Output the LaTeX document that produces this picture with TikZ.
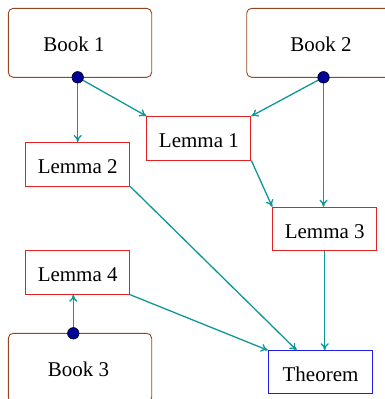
\documentclass[tikz,border=0pt]{standalone}
\usepackage{fontspec}
\setmainfont{Liberation Serif}
\usetikzlibrary{arrows.meta,calc}
\definecolor{bookc}{RGB}{150,70,30}
\definecolor{lemc}{RGB}{225,35,35}
\definecolor{thmc}{RGB}{30,30,230}
\definecolor{arrc}{RGB}{15,150,150}
\definecolor{dotc}{RGB}{0,0,150}
\begin{document}
\begin{tikzpicture}[x=1pt,y=-1pt,
  every node/.style={font=\fontsize{21}{25}\selectfont},
  bookbox/.style={draw=bookc,line width=0.9pt,rounded corners=5pt,minimum width=143.4pt,minimum height=69pt,inner sep=0pt},
  lembox/.style={draw=lemc,line width=0.9pt,minimum width=104pt,minimum height=43.5pt,inner sep=0pt,text height=18pt,text depth=0pt},
  thmbox/.style={draw=thmc,line width=0.9pt,minimum width=104.4pt,minimum height=42.6pt,inner sep=0pt,text height=18pt,text depth=0pt},
  conn/.style={draw=arrc,line width=1.3pt,-{To[length=7pt,width=8pt]}},
  dotn/.style={circle,draw=black,fill=dotc,line width=0.5pt,minimum size=11.6pt,inner sep=0pt}]
\useasboundingbox (0,0) rectangle (385,399);
\clip (0,0) rectangle (385,399);
% books
\node[bookbox] (B1) at (80,42.8) {};
\node (B1t) at (74,44.5) {Book 1};
\node[bookbox] (B2) at (318.4,42.8) {};
\node (B2t) at (321,44.5) {Book 2};
\node[bookbox] (B3) at (80,367.8) {};
\node (B3t) at (78.5,369.5) {Book 3};
% lemmas
\node[lembox] (L1) at (198.9,138.3) {Lemma 1};
\node[lembox] (L2) at (77.7,164.2) {Lemma 2};
\node[lembox] (L3) at (324.7,229) {Lemma 3};
\node[lembox] (L4) at (77.7,272.5) {Lemma 4};
\node[thmbox] (T) at (320.5,372) {Theorem};
% dot coordinates
\coordinate (d1) at (77.7,77.3);
\coordinate (d2) at (323.5,77.3);
\coordinate (d3) at (73.3,333.3);
% connectors
\draw[conn] (d1) -- (d1 |- L2.north);
\draw[conn] (d1) -- (L1.north west);
\draw[conn] (d2) -- (L1.north east);
\draw[conn] (d2) -- (d2 |- L3.north);
\draw[conn] (L1.south east) -- (L3.north west);
\draw[conn] (L2.south east) -- ($(T.north)+(-23.8,0)$);
\draw[conn] (L4.south east) -- (T.north west);
\draw[conn] (L3.south) -- (L3.south |- T.north);
\draw[conn] (d3) -- (d3 |- L4.south);
% dots
\node[dotn] (D1) at (d1) {};
\node[dotn] (D2) at (d2) {};
\node[dotn] (D3) at (d3) {};
\end{tikzpicture}
\end{document}
